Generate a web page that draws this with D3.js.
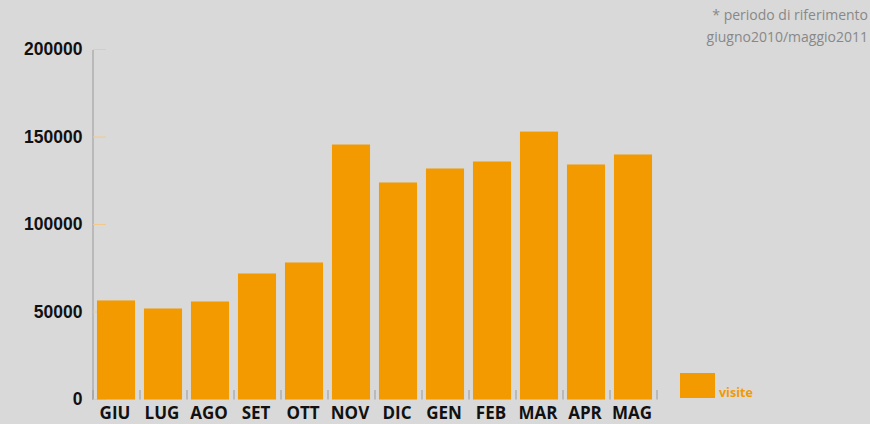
<!DOCTYPE html>
<html>
<head>
<meta charset="utf-8">
<script src="https://cdn.jsdelivr.net/npm/d3@7"></script>
<style>
  body { margin: 0; background: #d9d9d9; }
  svg { display: block; font-family: "Open Sans", "Noto Sans", sans-serif; }
</style>
</head>
<body>
<div id="chart"></div>
<script>
var months = ['GIU', 'LUG', 'AGO', 'SET', 'OTT', 'NOV', 'DIC', 'GEN', 'FEB', 'MAR', 'APR', 'MAG'];
var visite = [56600, 52000, 56000, 72000, 78300, 145700, 124000, 132000, 136000, 153100, 134300, 140000];
var yTicks = [0, 50000, 100000, 150000, 200000];

var w = 870, h = 424;
var svg = d3.select('#chart').append('svg').attr('width', w).attr('height', h);

svg.append('rect').attr('width', w).attr('height', h).attr('fill', '#d9d9d9');

var x = d3.scaleBand().domain(months).range([92.5, 656.5]).paddingInner(0.19).paddingOuter(0.095);
var y = d3.scaleLinear().domain([0, 200000]).range([399.5, 49.5]);

// y axis
var yAxis = svg.append('g').attr('transform', 'translate(92.5,0)')
  .call(d3.axisLeft(y).tickValues(yTicks).tickSize(0).tickPadding(10).tickFormat(d3.format('d')));
yAxis.select('.domain').attr('stroke', '#999');
yAxis.selectAll('text').attr('font-size', 17.5).attr('font-weight', 'bold').attr('fill', '#111')
  .attr('dy', '0.3em');

// short orange ticks
svg.selectAll('line.ytick').data(yTicks).enter().append('line')
  .attr('class', 'ytick')
  .attr('x1', 93).attr('x2', 106)
  .attr('y1', function(d) { return y(d); }).attr('y2', function(d) { return y(d); })
  .attr('stroke', '#f2c98a').attr('stroke-width', 1);

// category separators
var step = x.step();
svg.selectAll('line.sep').data(d3.range(months.length + 1)).enter().append('line')
  .attr('class', 'sep')
  .attr('x1', function(i) { return 93 + i * step; }).attr('x2', function(i) { return 93 + i * step; })
  .attr('y1', 390).attr('y2', 399.5)
  .attr('stroke', '#999');

// bars
svg.selectAll('rect.bar').data(visite).enter().append('rect')
  .attr('class', 'bar')
  .attr('x', function(d, i) { return x(months[i]); })
  .attr('width', x.bandwidth())
  .attr('y', function(d) { return y(d); })
  .attr('height', function(d) { return y(0) - y(d); })
  .attr('fill', '#f29a00');

// x labels
svg.selectAll('text.xl').data(months).enter().append('text')
  .attr('class', 'xl')
  .attr('x', function(d) { return x(d) + x.bandwidth() / 2 - 1; })
  .attr('y', 419)
  .attr('text-anchor', 'middle')
  .attr('font-size', 17).attr('font-weight', 'bold').attr('fill', '#111')
  .text(function(d) { return d; });

// legend
svg.append('rect').attr('x', 680).attr('y', 373).attr('width', 35).attr('height', 25).attr('fill', '#f29a00');
svg.append('text').attr('x', 719).attr('y', 397).attr('font-size', 12.5).attr('font-weight', 'bold')
  .attr('fill', '#f29a00').text('visite');

// note
svg.append('text').attr('x', 868).attr('y', 20).attr('text-anchor', 'end').attr('font-size', 14)
  .attr('fill', '#888').text('* periodo di riferimento');
svg.append('text').attr('x', 868).attr('y', 42).attr('text-anchor', 'end').attr('font-size', 14)
  .attr('fill', '#888').text('giugno2010/maggio2011');
</script>
</body>
</html>
